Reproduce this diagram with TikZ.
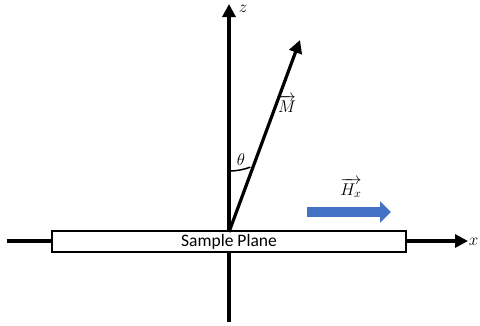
\RequirePackage{fix-cm}
\documentclass[tikz,border=0pt]{standalone}
\usepackage{fontspec}
\setmainfont{Carlito}
\usetikzlibrary{arrows.meta}
\definecolor{hblue}{HTML}{4472C4}
\begin{document}
\begin{tikzpicture}[x=1pt,y=-1pt,
  axis/.style={line width=3.2pt,-{Triangle[length=13pt,width=13pt]}},
  lbl/.style={inner sep=0pt,font=\fontsize{17}{20}\selectfont},
  plane/.style={draw,line width=1.6pt,fill=white,minimum width=354pt,minimum height=21pt,inner sep=0pt,font=\fontsize{17.5}{20}\selectfont}]
\useasboundingbox (0,0) rectangle (480,325);
\coordinate (zb) at (229,322);
\coordinate (zt) at (229,4);
\coordinate (xl) at (7,241);
\coordinate (xr) at (468,241);
\coordinate (o) at (229,232);
\coordinate (mt) at (300,40);
\draw[line width=3.2pt] (zb) -- (o);
\draw[axis] (o) -- (zt);
\draw[axis] (xl) -- (xr);
\node[plane] (sp) at (229,241.5) {Sample Plane};
\draw[axis] (o) -- (mt);
\draw[line width=1.5pt] (229,171) arc[start angle=90,end angle=69.5,radius=61];
\node[lbl] (zl) at (243,9) {$z$};
\node[lbl] (xlab) at (473.5,242) {$x$};
\node[lbl] (ml) at (287,104) {$\overrightarrow{M}$};
\node[lbl] (th) at (241,160) {$\theta$};
\node[lbl] (hl) at (351,188) {$\overrightarrow{H_x}$};
\coordinate (hs) at (307,212);
\coordinate (he) at (391,212);
\draw[hblue,line width=10pt,-{Triangle[length=11pt,width=21pt]}] (hs) -- (he);
\end{tikzpicture}
\end{document}
